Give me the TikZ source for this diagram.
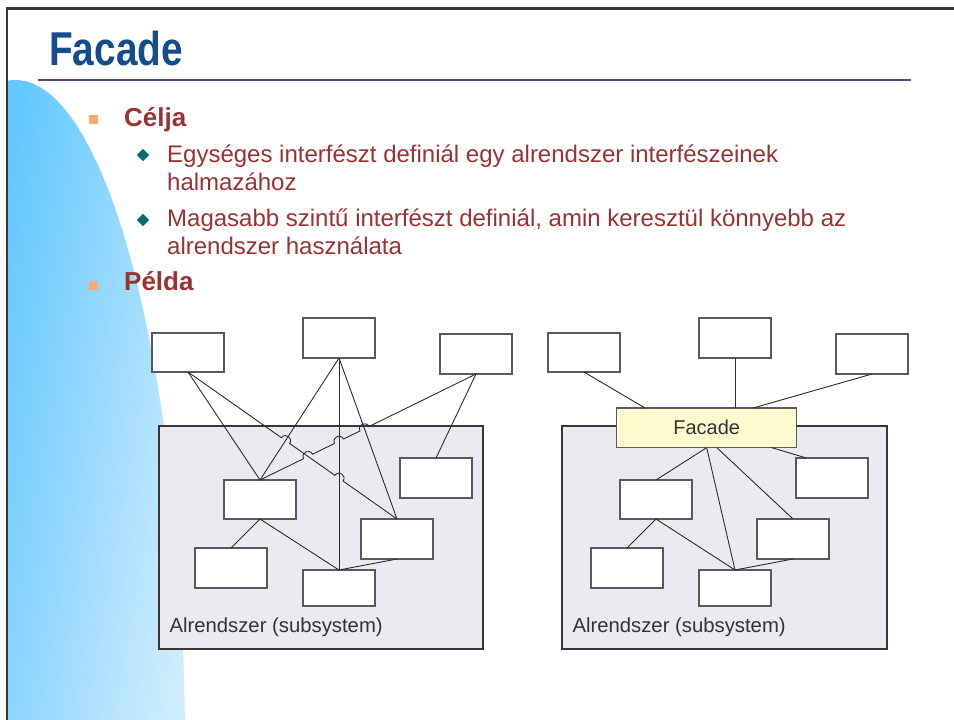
\documentclass[tikz,border=0pt]{standalone}
\usepackage{fontspec}
\setmainfont{Liberation Sans}
\usetikzlibrary{calc,intersections,shapes.geometric}

\definecolor{titleblue}{RGB}{20,76,140}
\definecolor{rulepurple}{RGB}{84,76,112}
\definecolor{framegray}{RGB}{55,55,55}
\definecolor{bulletred}{RGB}{153,51,51}
\definecolor{squareorange}{RGB}{250,170,112}
\definecolor{diamondteal}{RGB}{0,108,112}
\definecolor{skyleft}{RGB}{100,200,255}
\definecolor{skyright}{RGB}{206,236,252}
\definecolor{boxgray}{RGB}{90,90,90}
\definecolor{subfill}{RGB}{235,234,240}
\definecolor{facadefill}{RGB}{254,250,208}
\definecolor{wiregray}{RGB}{45,45,45}
\definecolor{labelgray}{RGB}{51,51,51}

% coordinates of a small semicircular hop where a wire crosses another one
% #1 prefix, #2 crossing point, #3 wire start, #4 wire end
\newcommand\hopcoords[4]{%
  \coordinate (#1a) at ($(#2)!5pt!(#3)$);
  \coordinate (#1b) at ($(#2)!5pt!(#4)$);
  \coordinate (#1c) at ($(#1a)!6.67pt!90:(#2)$);
  \coordinate (#1d) at ($(#1b)!6.67pt!-90:(#2)$);
}

\begin{document}
\begin{tikzpicture}[x=1pt,y=-1pt,
  classbox/.style={draw=boxgray, fill=white, line width=1.1pt, inner sep=0pt,
    outer sep=0pt, minimum width=72pt, minimum height=40pt},
  subsys/.style={draw=framegray, fill=subfill, line width=1.1pt, inner sep=0pt,
    outer sep=0pt},
  facadebox/.style={draw=boxgray, fill=facadefill, line width=1.1pt, inner sep=0pt,
    outer sep=0pt, minimum width=180pt, minimum height=39.7pt,
    font=\fontsize{20}{24}\selectfont, text=labelgray},
  wire/.style={draw=wiregray, line width=0.9pt},
  sublabel/.style={anchor=base west, inner sep=0pt, font=\fontsize{20.3}{24}\selectfont,
    text=labelgray},
  lvlone/.style={anchor=base west, inner sep=0pt, text=bulletred,
    font=\fontsize{26}{30}\selectfont\bfseries},
  lvltwo/.style={anchor=base west, inner sep=0pt, text=bulletred,
    font=\fontsize{24}{28}\selectfont},
  sqbullet/.style={fill=squareorange, inner sep=0pt, minimum size=9pt},
  dmbullet/.style={diamond, fill=diamondteal, inner sep=0pt, minimum size=12.6pt}
]
\useasboundingbox (0,0) rectangle (954,720);
\fill[white] (0,0) rectangle (954,720);

% light blue sail on the left
\begin{scope}
  \clip (8,80) rectangle (200,720);
  \clip (15,750) ellipse [x radius=170, y radius=670];
  \shade[left color=skyleft, right color=skyright, shading angle=80] (8,80) rectangle (186,720);
\end{scope}

% slide frame
\draw[framegray, line width=2.5pt] (954,8.5) -- (7,8.5) -- (7,720);

% title and rule
\node[anchor=base west, inner sep=0pt, text=titleblue] (title) at (49,65.7)
  {\scalebox{0.817}[1]{\fontsize{47.5}{50}\selectfont\bfseries Facade}};
\draw[rulepurple, line width=2.2pt] (38,80) -- (911,80);

% bullet list
\node[sqbullet] (sq1) at (93.8,119.6) {};
\node[lvlone] (celja) at (124,126) {Célja};
\node[dmbullet] (dm1) at (143,155) {};
\node[lvltwo] (e1a) at (167,162) {Egységes interfészt definiál egy alrendszer interfészeinek};
\node[lvltwo] (e1b) at (167,190) {halmazához};
\node[dmbullet] (dm2) at (143,220) {};
\node[lvltwo] (e2a) at (167,226.7) {Magasabb szintű interfészt definiál, amin keresztül könnyebb az};
\node[lvltwo] (e2b) at (167,254) {alrendszer használata};
\node[sqbullet] (sq2) at (93.8,285) {};
\node[lvlone] (pelda) at (124,290.7) {Példa};

% ---------- without facade ----------
\node[subsys, minimum width=324pt, minimum height=223pt] (S1) at (321,537.5) {};
\node[sublabel] (S1l) at (169.3,632.7) {Alrendszer (subsystem)};

\node[classbox, minimum height=39pt] (L1) at (188,352.5) {};
\node[classbox] (L2) at (339,338) {};
\node[classbox] (L3) at (476,354) {};
\node[classbox, minimum height=39pt] (A) at (260,499.5) {};
\node[classbox] (B) at (436,478) {};
\node[classbox] (C) at (397,539) {};
\node[classbox] (D) at (231,568) {};
\node[classbox, minimum height=36pt] (E) at (339,588) {};

\path[name path=pA] (L2.south) -- (A.north);
\path[name path=pV] (L2.south) -- (E.north);
\path[name path=pC] (L2.south) -- (C.north);
\path[name path=pLC] (L1.south) -- (C.north);
\path[name path=pAL] (A.north) -- (L3.south);
\path[name intersections={of=pLC and pA, by=xa}];
\path[name intersections={of=pLC and pV, by=xb}];
\path[name intersections={of=pAL and pLC, by=xc}];
\path[name intersections={of=pAL and pV, by=xd}];
\path[name intersections={of=pAL and pC, by=xe}];
\hopcoords{ha}{xa}{L1.south}{C.north}
\hopcoords{hb}{xb}{L1.south}{C.north}
\hopcoords{hc}{xc}{A.north}{L3.south}
\hopcoords{hd}{xd}{A.north}{L3.south}
\hopcoords{he}{xe}{A.north}{L3.south}

\draw[wire] (L1.south) -- (A.north);
\draw[wire] (L2.south) -- (A.north);
\draw[wire] (L2.south) -- (E.north);
\draw[wire] (L2.south) -- (C.north);
\draw[wire] (L3.south) -- (B.north);
\draw[wire] (A.south) -- (D.north);
\draw[wire] (A.south) -- (E.north);
\draw[wire] (C.south) -- (E.north);
\draw[wire] (L1.south) -- (haa) .. controls (hac) and (had) .. (hab)
  -- (hba) .. controls (hbc) and (hbd) .. (hbb) -- (C.north);
\draw[wire] (A.north) -- (hca) .. controls (hcc) and (hcd) .. (hcb)
  -- (hda) .. controls (hdc) and (hdd) .. (hdb)
  -- (hea) .. controls (hec) and (hed) .. (heb) -- (L3.south);

% ---------- with facade ----------
\node[subsys, minimum width=325pt, minimum height=223pt] (S2) at (724.5,537.5) {};
\node[sublabel] (S2l) at (572.3,632.7) {Alrendszer (subsystem)};

\node[classbox, minimum height=39pt] (R1) at (584,352.5) {};
\node[classbox] (R2) at (735,338) {};
\node[classbox] (R3) at (872,354) {};
\node[classbox, minimum height=39pt] (RA) at (656,499.5) {};
\node[classbox] (RB) at (832,478) {};
\node[classbox] (RC) at (793,539) {};
\node[classbox] (RD) at (627,568) {};
\node[classbox, minimum height=36pt] (RE) at (735,588) {};
\node[facadebox] (F) at (706.7,427.8) {Facade};

\coordinate (Ft1) at ($(F.north west)!0.157!(F.north east)$);
\coordinate (Ft3) at ($(F.north west)!0.759!(F.north east)$);
\coordinate (Fb2) at ($(F.south west)!0.556!(F.south east)$);
\coordinate (Fb3) at ($(F.south west)!0.861!(F.south east)$);
\coordinate (RBt) at ($(RB.north west)!0.144!(RB.north east)$);

\draw[wire] (R1.south) -- (Ft1);
\draw[wire] (R2.south) -- (R2.south |- F.north);
\draw[wire] (R3.south) -- (Ft3);
\draw[wire] (F.south) -- (RA.north);
\draw[wire] (F.south) -- (RE.north);
\draw[wire] (Fb2) -- (RC.north);
\draw[wire] (Fb3) -- (RBt);
\draw[wire] (RA.south) -- (RD.north);
\draw[wire] (RA.south) -- (RE.north);
\draw[wire] (RC.south) -- (RE.north);
\end{tikzpicture}
\end{document}
